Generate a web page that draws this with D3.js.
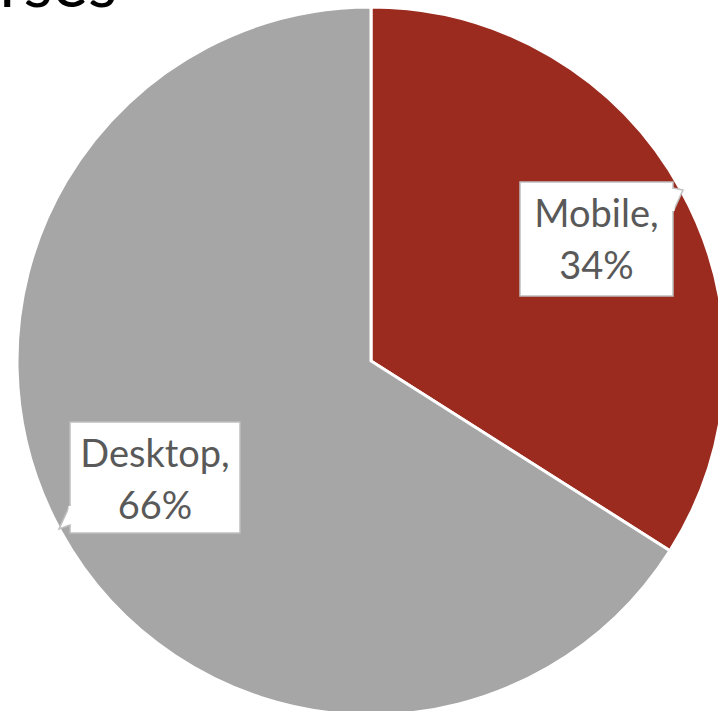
<html>
<head>
<title>Device share</title>
<script src="https://cdn.jsdelivr.net/npm/d3@7"></script>
<style>
  body{margin:0;background:#fff;overflow:hidden;}
  .lbl{font-family:Lato,"Open Sans",sans-serif;fill:#595959;font-size:38px;}
</style>
</head>
<body>
<script>
var width=718, height=711;

// data
var categories = ["Mobile","Desktop"];
var values = [34,66];
var colors = ["#9c2b1f","#a6a6a6"];
var titleText = "Courses";

var svg = d3.select("body").append("svg")
            .attr("width",width)
            .attr("height",height);

// title, mostly cut off at the top left
svg.append("text")
   .attr("x",117).attr("y",7)
   .attr("text-anchor","end")
   .style("font-family","Lato,'Open Sans',sans-serif")
   .style("font-size","67px")
   .style("fill","#000")
   .text(titleText);

var cx=371, cy=361, r=354;
var g = svg.append("g").attr("transform","translate("+cx+","+cy+")");

var pie = d3.pie().sort(null).value(function(d){return d;});
var arc = d3.arc().innerRadius(0).outerRadius(r);
var arcs = pie(values);

g.selectAll("path.slice").data(arcs).enter()
 .append("path")
 .attr("class","slice")
 .attr("d",arc)
 .attr("fill",function(d,i){return colors[i];})
 .attr("stroke","#fff")
 .attr("stroke-width",3);

// label boxes (callouts) placed by hand like the original
var boxes = [
  {x:520,y:182,w:153,h:114,tip:[683,190],base:[[673,188],[673,212]]},
  {x:70,y:422,w:170,h:111,tip:[59,529],base:[[70,505],[70,525]]}
];

boxes.forEach(function(b,i){
  var lg = svg.append("g");
  lg.append("rect")
    .attr("x",b.x).attr("y",b.y).attr("width",b.w).attr("height",b.h)
    .attr("fill","#fff").attr("stroke","#bfbfbf").attr("stroke-width",1.5);
  lg.append("path")
    .attr("d","M"+b.base[0]+"L"+b.tip+"L"+b.base[1])
    .attr("fill","#fff").attr("stroke","#bfbfbf").attr("stroke-width",1.5);
  // cover the box border where the pointer joins
  lg.append("line")
    .attr("x1",b.base[0][0]).attr("y1",b.base[0][1]+1)
    .attr("x2",b.base[1][0]).attr("y2",b.base[1][1]-1)
    .attr("stroke","#fff").attr("stroke-width",3);
  var tx = b.x+b.w/2;
  lg.append("text").attr("class","lbl").attr("text-anchor","middle")
    .attr("x",tx).attr("y",b.y+45).text(categories[i]+",");
  lg.append("text").attr("class","lbl").attr("text-anchor","middle")
    .attr("x",tx).attr("y",b.y+97).text(values[i]+"%");
});
</script>
</body>
</html>
